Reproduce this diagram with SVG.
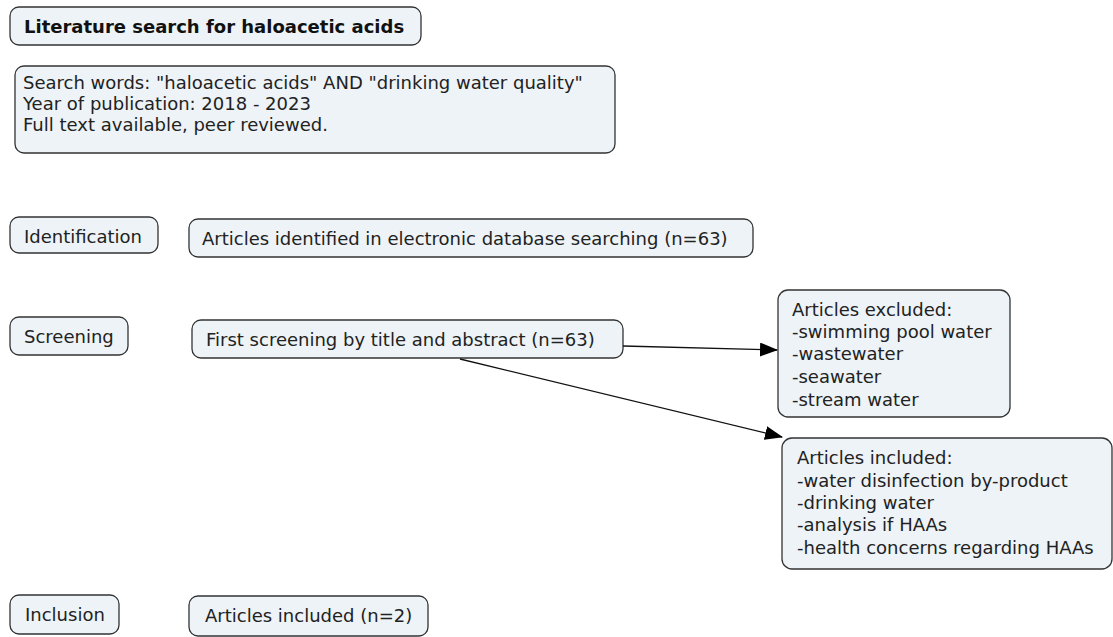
<svg xmlns="http://www.w3.org/2000/svg" width="1113" height="637" viewBox="0 0 1113 637">
<style>
.box{fill:#edf3f6;stroke:#333;stroke-width:1.3}
text{font-family:"DejaVu Sans",Verdana,sans-serif;font-size:18px;fill:#222}
.b{font-weight:bold;fill:#111}
.c{stroke:#111;stroke-width:1.3;fill:none}
</style>
<defs>
<marker id="ah2" markerWidth="18" markerHeight="14" refX="17" refY="7" orient="auto" markerUnits="userSpaceOnUse" viewBox="0 0 18 14">
<path d="M0,0 L18,7 L0,14 z" fill="#000"/>
</marker>
</defs>
<rect width="1113" height="637" fill="#fff"/>
<g id="title"><rect class="box" x="10" y="7" width="411" height="38" rx="9"/><text class="b" x="24" y="33">Literature search for haloacetic acids</text></g>
<g id="search"><rect class="box" x="15" y="66" width="600" height="87" rx="9"/>
<text x="23" y="89">Search words: "haloacetic acids" AND "drinking water quality"</text>
<text x="23" y="110">Year of publication: 2018 - 2023</text>
<text x="23" y="131">Full text available, peer reviewed.</text></g>
<g id="identification"><rect class="box" x="10" y="217" width="148" height="36" rx="9"/><text x="24" y="243">Identification</text></g>
<g id="identified"><rect class="box" x="189" y="219" width="564" height="38" rx="9"/><text x="202" y="245">Articles identified in electronic database searching (n=63)</text></g>
<g id="screening"><rect class="box" x="10" y="317" width="118" height="38" rx="9"/><text x="24" y="343">Screening</text></g>
<g id="first"><rect class="box" x="192" y="320" width="431" height="38" rx="9"/><text x="206" y="346">First screening by title and abstract (n=63)</text></g>
<g id="excluded"><rect class="box" x="778" y="290" width="232" height="127" rx="10"/>
<text x="792" y="316">Articles excluded:</text>
<text x="792" y="338">-swimming pool water</text>
<text x="792" y="360">-wastewater</text>
<text x="792" y="383">-seawater</text>
<text x="792" y="406">-stream water</text></g>
<g id="included"><rect class="box" x="782" y="438" width="330" height="131" rx="10"/>
<text x="797" y="464">Articles included:</text>
<text x="797" y="487">-water disinfection by-product</text>
<text x="797" y="509">-drinking water</text>
<text x="797" y="531">-analysis if HAAs</text>
<text x="797" y="554">-health concerns regarding HAAs</text></g>
<g id="inclusion"><rect class="box" x="10" y="595" width="109" height="39" rx="9"/><text x="25" y="621">Inclusion</text></g>
<g id="final"><rect class="box" x="189" y="596" width="239" height="40" rx="9"/><text x="205" y="622">Articles included (n=2)</text></g>
<g id="connectors">
<line class="c" x1="623" y1="346" x2="777" y2="350" marker-end="url(#ah2)"/>
<line class="c" x1="460" y1="359" x2="782" y2="437" marker-end="url(#ah2)"/>
</g>
</svg>
